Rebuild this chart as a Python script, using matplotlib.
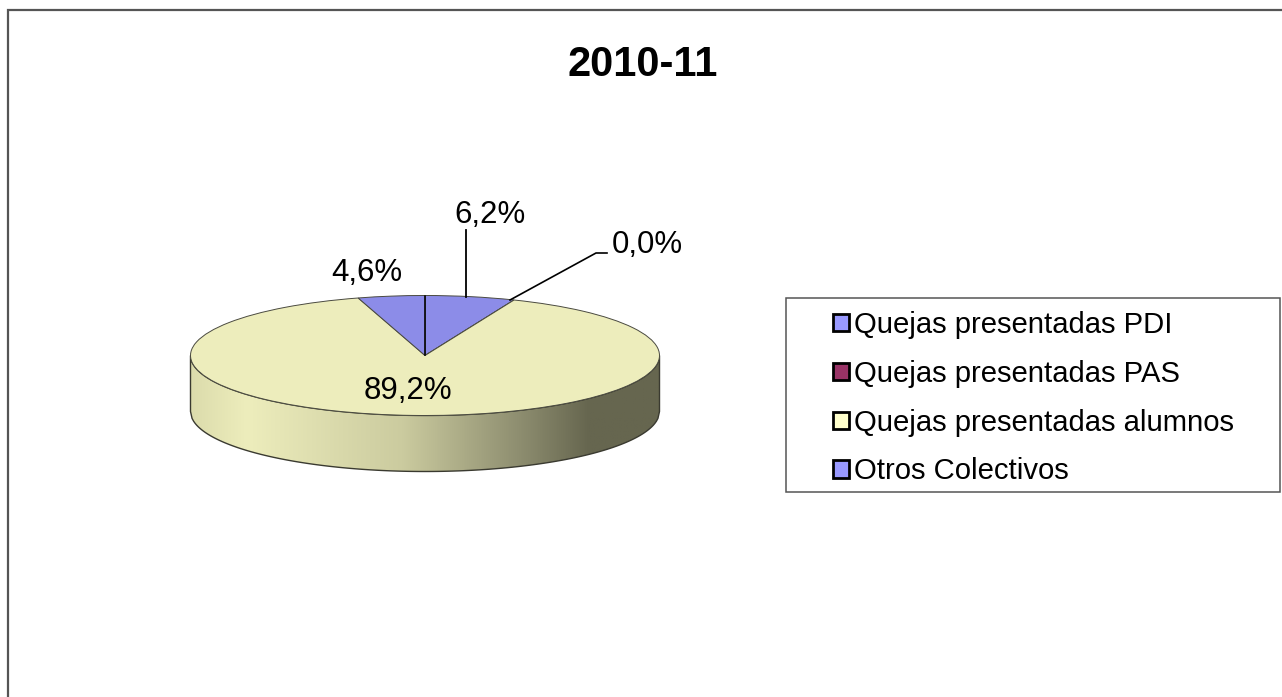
import numpy as np
import matplotlib
matplotlib.use('Agg')
import matplotlib.pyplot as plt
from matplotlib.colors import LinearSegmentedColormap
from matplotlib.patches import Patch, Polygon, Rectangle

plt.rcParams['font.family'] = ['Liberation Sans', 'DejaVu Sans']

title = '2010-11'
categories = ['Quejas presentadas PDI', 'Quejas presentadas PAS',
              'Quejas presentadas alumnos', 'Otros Colectivos']
values = [6.2, 0.0, 89.2, 4.6]
pie_colors = ['#8C8CE8', '#8C2F5C', '#EDEDBC', '#8C8CE8']
legend_colors = ['#9999FF', '#993366', '#FFFFCC', '#9999FF']

W, H = 1282, 697
cx, cy, rx, ry, depth = 425, 355.5, 234.5, 60, 56

fig = plt.figure(figsize=(W / 100, H / 100), dpi=100)

# fond en pixels
bg = fig.add_axes([0, 0, 1, 1], zorder=0)
bg.set_xlim(0, W)
bg.set_ylim(H, 0)
bg.axis('off')
bg.plot([7.5, 7.5, W], [H, 9.5, 9.5], color='#555555', lw=1.6, solid_joinstyle='miter')

# flanc du camembert avec degrade
xs = np.linspace(cx - rx, cx + rx, 300)
arc = cy + ry * np.sqrt(np.clip(1 - ((xs - cx) / rx) ** 2, 0, 1))
side = np.vstack([np.column_stack([xs, arc]), np.column_stack([xs[::-1], arc[::-1] + depth])])
cmap = LinearSegmentedColormap.from_list('side', [
    (0.0, '#DCDCAC'), (0.12, '#EDEDBC'), (0.45, '#CBCB9F'),
    (0.70, '#8E8E70'), (0.85, '#66664F'), (1.0, '#66664F')])
grad = bg.imshow(np.linspace(0, 1, 256).reshape(1, -1), cmap=cmap, aspect='auto',
                 extent=[cx - rx, cx + rx, cy + ry + depth, cy], zorder=1)
bg.set_xlim(0, W)
bg.set_ylim(H, 0)
poly = Polygon(side, closed=True, facecolor='none', edgecolor='#3A3A30', lw=1.0, zorder=2)
bg.add_patch(poly)
grad.set_clip_path(poly)

# dessus du camembert
ax = fig.add_axes([(cx - rx) / W, 1 - (cy + ry) / H, 2 * rx / W, 2 * ry / H], zorder=1)
wedges, _ = ax.pie(values, colors=pie_colors, startangle=90, counterclock=False, radius=1,
                   wedgeprops={'edgecolor': '#4A4A40', 'linewidth': 0.7, 'clip_on': False})
ax.set_aspect('auto')
ax.set_xlim(-1, 1)
ax.set_ylim(-1, 1)
ax.patch.set_visible(False)

# textes et lignes de rappel
top = fig.add_axes([0, 0, 1, 1], zorder=2)
top.set_xlim(0, W)
top.set_ylim(H, 0)
top.axis('off')
top.text(643, 65, title, fontsize=30, fontweight='bold', ha='center', va='center')

label_pos = [(490, 215), (647, 245), (408, 391), (367, 273)]
for v, (lx, ly) in zip(values, label_pos):
    top.text(lx, ly, f'{v:.1f}%'.replace('.', ','), fontsize=22.5, ha='center', va='center')
top.plot([425, 425], [296, 355], color='black', lw=1.1)
top.plot([466, 466], [230, 297], color='black', lw=1.3)
top.plot([510, 596, 607], [300, 253, 253], color='black', lw=1.2)

# legende
top.add_patch(Rectangle((786, 298), 494, 194, facecolor='white', edgecolor='#555555', lw=1.1, zorder=0))
handles = [Patch(facecolor=c, edgecolor='black', lw=2.0) for c in legend_colors]
top.legend(handles, categories, loc='upper left', bbox_to_anchor=(833 / W, 1 - 311 / H),
           bbox_transform=fig.transFigure, frameon=False, fontsize=21.1, handlelength=0.53,
           handleheight=0.53, handletextpad=0.2, labelspacing=0.71, borderpad=0, borderaxespad=0)

fig.savefig('out.png', dpi=100)
